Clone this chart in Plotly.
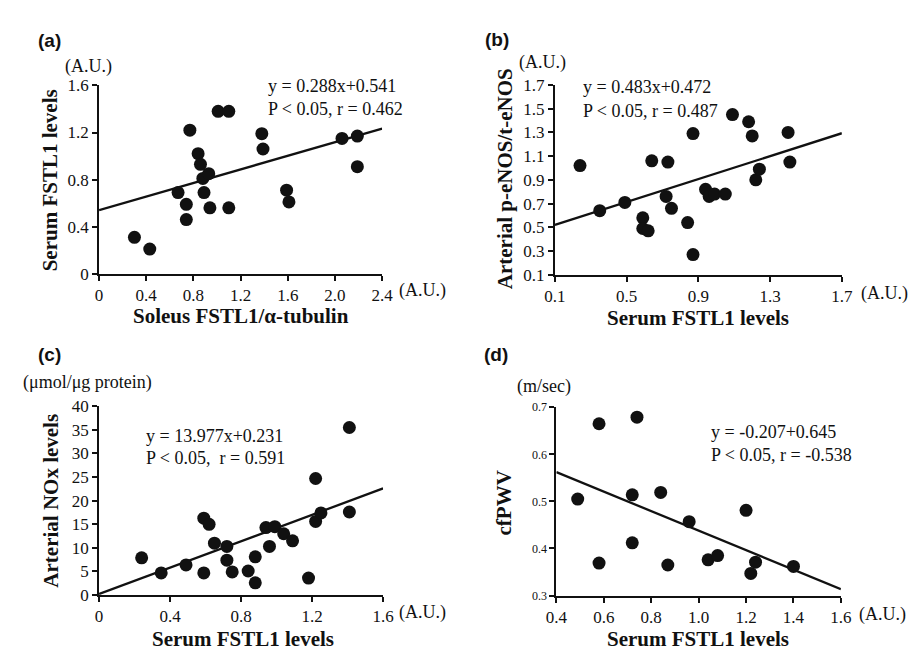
import plotly.graph_objects as go

W, H = 922, 650

# ---------------- data ----------------
a_x = [0.30, 0.43, 0.67, 0.74, 0.74, 0.77, 0.84, 0.86, 0.88, 0.93, 0.89, 0.94,
       1.01, 1.10, 1.10, 1.38, 1.39, 1.59, 1.61, 2.06, 2.19, 2.19]
a_y = [0.31, 0.21, 0.69, 0.59, 0.46, 1.22, 1.02, 0.93, 0.81, 0.85, 0.69, 0.56,
       1.38, 1.38, 0.56, 1.19, 1.06, 0.71, 0.61, 1.15, 1.17, 0.91]

b_x = [0.24, 0.35, 0.49, 0.59, 0.59, 0.62, 0.64, 0.72, 0.73, 0.75, 0.84, 0.87,
       0.87, 0.94, 0.96, 0.99, 1.05, 1.09, 1.18, 1.20, 1.22, 1.24, 1.40, 1.41]
b_y = [1.02, 0.64, 0.71, 0.58, 0.49, 0.47, 1.06, 0.76, 1.05, 0.66, 0.54, 1.29,
       0.27, 0.82, 0.76, 0.78, 0.78, 1.45, 1.39, 1.27, 0.90, 0.99, 1.30, 1.05]

c_x = [0.24, 0.35, 0.49, 0.59, 0.59, 0.62, 0.65, 0.72, 0.72, 0.75, 0.84, 0.88,
       0.88, 0.94, 0.99, 0.96, 1.04, 1.09, 1.18, 1.22, 1.22, 1.25, 1.41, 1.41]
c_y = [7.9, 4.7, 6.4, 4.7, 16.3, 15.0, 11.0, 10.3, 7.4, 4.9, 5.1, 8.1,
       2.6, 14.3, 14.5, 10.3, 13.0, 11.5, 3.6, 24.7, 15.6, 17.4, 35.5, 17.6]

d_x = [0.49, 0.58, 0.58, 0.72, 0.72, 0.74, 0.84, 0.87, 0.96, 1.04, 1.08, 1.20,
       1.22, 1.24, 1.40]
d_y = [0.505, 0.665, 0.369, 0.412, 0.514, 0.679, 0.519, 0.365, 0.457, 0.376,
       0.385, 0.481, 0.347, 0.371, 0.362]

# regression (slope, intercept) as printed
a_fit = [0.288, 0.541]
b_fit = [0.483, 0.472]
c_fit = [13.977, 0.231]
d_fit = [-0.207, 0.645]

# ticks
a_xticks = [0, 0.4, 0.8, 1.2, 1.6, 2.0, 2.4]
a_xtext = ["0", "0.4", "0.8", "1.2", "1.6", "2.0", "2.4"]
a_yticks = [0, 0.4, 0.8, 1.2, 1.6]
a_ytext = ["0", "0.4", "0.8", "1.2", "1.6"]
b_xticks = [0.1, 0.5, 0.9, 1.3, 1.7]
b_xtext = ["0.1", "0.5", "0.9", "1.3", "1.7"]
b_yticks = [0.1, 0.3, 0.5, 0.7, 0.9, 1.1, 1.3, 1.5, 1.7]
b_ytext = ["0.1", "0.3", "0.5", "0.7", "0.9", "1.1", "1.3", "1.5", "1.7"]
c_xticks = [0, 0.4, 0.8, 1.2, 1.6]
c_xtext = ["0", "0.4", "0.8", "1.2", "1.6"]
c_yticks = [0, 5, 10, 15, 20, 25, 30, 35, 40]
c_ytext = ["0", "5", "10", "15", "20", "25", "30", "35", "40"]
d_xticks = [0.4, 0.6, 0.8, 1.0, 1.2, 1.4, 1.6]
d_xtext = ["0.4", "0.6", "0.8", "1.0", "1.2", "1.4", "1.6"]
d_yticks = [0.3, 0.4, 0.5, 0.6, 0.7]
d_ytext = ["0.3", "0.4", "0.5", "0.6", "0.7"]

SERIF = "Liberation Serif, Times New Roman, serif"
SANS = "Liberation Sans, Arial, sans-serif"
INK = "#111111"

def px(x):
    return x / W

def py(y):
    return 1 - y / H

# plot-area pixel boxes: (left, right, top, bottom)
boxes = {
    "a": (82, 372, 70.5, 264.5),
    "b": (549, 843, 70, 265.5),
    "c": (82, 373, 401, 595.5),
    "d": (550.5, 842, 402, 596),
}

fig = go.Figure()

panels = [
    ("a", "x", "y", a_x, a_y, a_fit, a_xticks, a_xtext, a_yticks, a_ytext, 17),
    ("b", "x2", "y2", b_x, b_y, b_fit, b_xticks, b_xtext, b_yticks, b_ytext, 17),
    ("c", "x3", "y3", c_x, c_y, c_fit, c_xticks, c_xtext, c_yticks, c_ytext, 17),
    ("d", "x4", "y4", d_x, d_y, d_fit, d_xticks, d_xtext, d_yticks, d_ytext, 12),
]

layout = dict(
    width=W, height=H,
    margin=dict(l=0, r=0, t=0, b=0),
    paper_bgcolor="white", plot_bgcolor="white",
    showlegend=False,
    font=dict(family=SERIF, color=INK),
)

for key, xa, ya, xs, ys, fit, xt, xtt, yt, ytt, yfs in panels:
    L, R, T, B = boxes[key]
    x0, x1 = xt[0], xt[-1]
    y0, y1 = yt[0], yt[-1]
    fig.add_trace(go.Scatter(
        x=[x0, x1], y=[fit[0] * x0 + fit[1], fit[0] * x1 + fit[1]],
        mode="lines", line=dict(color=INK, width=2.3),
        xaxis=xa, yaxis=ya, hoverinfo="skip", cliponaxis=False))
    fig.add_trace(go.Scatter(
        x=xs, y=ys, mode="markers",
        marker=dict(color=INK, size=13, line=dict(width=0)),
        xaxis=xa, yaxis=ya, cliponaxis=False))
    xname = "xaxis" + ("" if xa == "x" else xa[1:])
    yname = "yaxis" + ("" if ya == "y" else ya[1:])
    layout[xname] = dict(
        domain=[px(L), px(R)], range=[x0, x1], anchor=ya,
        showline=True, linecolor=INK, linewidth=2, mirror=False,
        showgrid=False, zeroline=False,
        ticks="outside", ticklen=5, tickwidth=1.7, tickcolor=INK,
        tickvals=xt, ticktext=xtt,
        tickfont=dict(family=SERIF, size=17, color=INK),
    )
    layout[yname] = dict(
        domain=[py(B), py(T)], range=[y0, y1], anchor=xa,
        showline=True, linecolor=INK, linewidth=2, mirror=False,
        showgrid=False, zeroline=False,
        ticks="outside", ticklen=5, tickwidth=1.7, tickcolor=INK,
        tickvals=yt, ticktext=ytt,
        tickfont=dict(family=SERIF, size=yfs, color=INK),
    )

fig.update_layout(**layout)

ann = []

def text(x, y, s, size=18, bold=False, family=SERIF, anchor="left", angle=0):
    ann.append(dict(
        x=px(x), y=py(y), xref="paper", yref="paper", text=("<b>%s</b>" % s) if bold else s,
        showarrow=False, xanchor=anchor, yanchor="middle", textangle=angle,
        font=dict(family=family, size=size, color=INK)))

# panel letters
text(17, 24, "(a)", 19, True, SANS)
text(475, 23, "(b)", 19, True, SANS)
text(17, 348, "(c)", 19, True, SANS)
text(474, 348, "(d)", 19, True, SANS)

# unit labels
text(45, 51, "(A.U.)", 18)
text(510, 47, "(A.U.)", 18)
text(2, 377, "(μmol/μg protein)", 18)
text(508, 381, "(m/sec)", 18)
text(387, 282, "(A.U.)", 18)
text(861, 285, "(A.U.)", 18)
text(387, 613, "(A.U.)", 18)
text(858, 616, "(A.U.)", 18)

# equations
text(253, 71, "y = 0.288x+0.541", 18)
text(253, 95, "P &lt; 0.05, r = 0.462", 18)
text(576, 72, "y = 0.483x+0.472", 18)
text(576, 97, "P &lt; 0.05, r = 0.487", 18)
text(128, 432, "y = 13.977x+0.231", 18)
text(128, 454, "P &lt; 0.05,  r = 0.591", 18)
text(707, 428, "y = -0.207+0.645", 18)
text(707, 451, "P &lt; 0.05, r = -0.538", 18)

# axis titles
text(227, 308, "Soleus FSTL1/α-tubulin", 21, True, anchor="center")
text(32, 168, "Serum FSTL1 levels", 21, True, anchor="center", angle=-90)
text(696, 310, "Serum FSTL1 levels", 21, True, anchor="center")
text(498, 167, "Arterial p-eNOS/t-eNOS", 21, True, anchor="center", angle=-90)
text(229, 641, "Serum FSTL1 levels", 21, True, anchor="center")
text(33, 498, "Arterial NOx levels", 21, True, anchor="center", angle=-90)
text(696, 641, "Serum FSTL1 levels", 21, True, anchor="center")
text(497, 501, "cfPWV", 21, True, anchor="center", angle=-90)

fig.update_layout(annotations=ann)

fig.write_html("out.html")
